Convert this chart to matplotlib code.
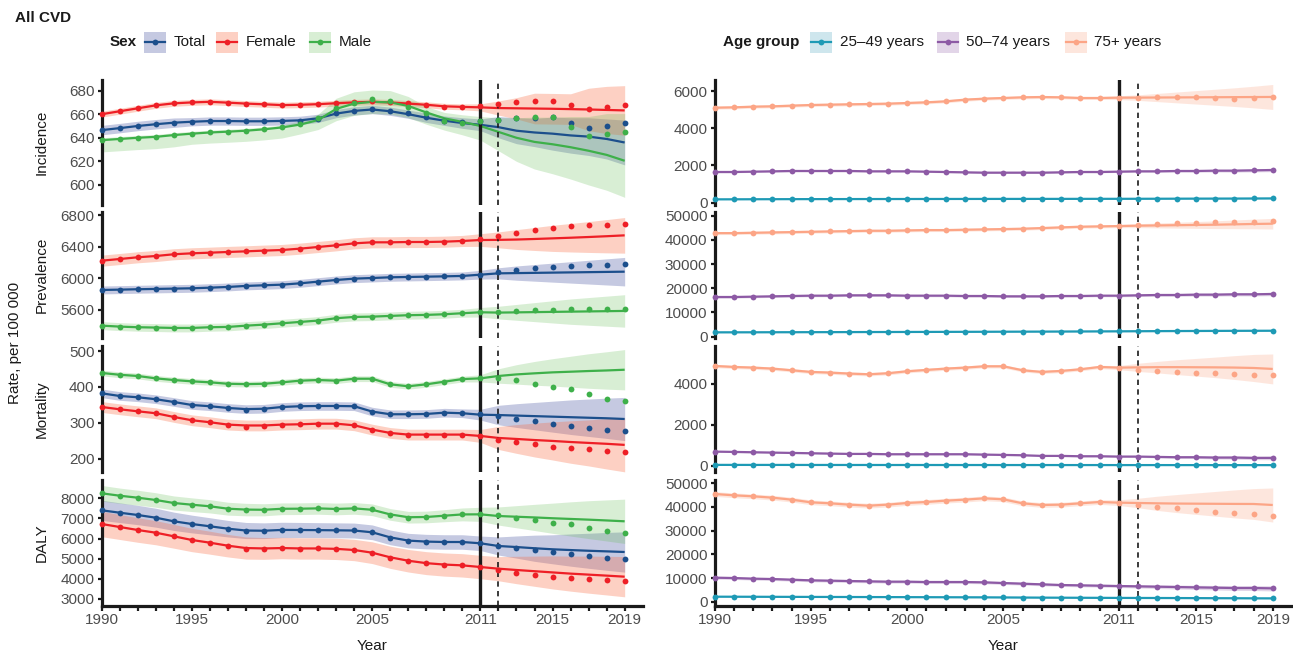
import matplotlib
matplotlib.use("Agg")
import matplotlib.pyplot as plt
from matplotlib.patches import Rectangle
from matplotlib.lines import Line2D
import numpy as np

plt.rcParams['font.family'] = ['Liberation Sans', 'DejaVu Sans']

W, H = 1293, 653
years = list(range(1990, 2020))
measures = ["Incidence", "Prevalence", "Mortality", "DALY"]
sex_groups = ["Total", "Female", "Male"]
age_groups = ["25–49 years", "50–74 years", "75+ years"]
xtick_labels = [1990, 1995, 2000, 2005, 2011, 2015, 2019]

# ---------------- Sex: Incidence ----------------
inc_total_pts = [646.7, 648.4, 650, 651.5, 652.9, 653.7, 654.3, 654.3, 654, 654, 654.3, 654.6, 655.8, 660.8, 663, 664.7, 663, 660.8, 657.4, 654.6, 653.7, 654.3, 655.5, 656.5, 657, 657.3, 652.9, 648.1, 650, 652.3]
inc_total_fit = [646.5, 648.2, 650, 651.5, 652.8, 653.6, 654.2, 654.2, 654, 654, 654.3, 654.8, 656.5, 660.5, 662.8, 664, 662.5, 660, 657, 654.5, 652.5, 651, 649, 646, 644.5, 643.5, 642, 641, 639, 636]
inc_total_wlo = [4, 4, 4, 4, 4, 3.5, 3.5, 3.5, 3.5, 3.5, 3.5, 3.5, 3.5, 3.5, 3.5, 3.5, 3.5, 3.5, 4, 4, 4.5, 5, 9, 11, 12, 14, 15, 16, 17, 19]
inc_total_whi = inc_total_wlo
inc_female_pts = [660, 662.5, 665, 667.6, 669.3, 670, 670.7, 669.8, 669, 668.4, 667.6, 668, 668.5, 669.3, 670.4, 671, 670.4, 669.3, 667.9, 666.4, 666.2, 666.8, 668.4, 670, 671.2, 671.2, 667.6, 664.2, 666, 667.6]
inc_female_fit = [660, 662.5, 665, 667.5, 669.2, 670, 670.5, 669.8, 669, 668.4, 667.7, 668, 668.5, 669.3, 670, 670.5, 670, 669, 668, 666.7, 666.2, 665.8, 665.2, 665, 664.8, 664.6, 664.3, 664, 663.6, 663.2]
inc_female_wlo = [2.5, 2.5, 2.5, 2.5, 2.5, 2.5, 2.5, 2.5, 2.5, 2.5, 2.5, 2.5, 2.5, 2.5, 2.5, 2.5, 2.5, 2.5, 2.5, 2.5, 2.5, 3, 6, 9, 13, 13, 13, 18, 20, 21]
inc_female_whi = inc_female_wlo
inc_male_pts = [638, 639, 640, 640.7, 642.4, 643.5, 644.7, 645.2, 646, 647.3, 649, 651.5, 657, 665, 669.8, 673, 671.2, 666.4, 660.8, 654.3, 652.3, 654.3, 655.4, 657.1, 657.9, 657.9, 649.2, 641.6, 643, 645.2]
inc_male_fit = [638, 639, 640, 640.8, 642.3, 643.5, 644.5, 645.2, 646, 647.2, 648.8, 651.2, 655, 664.5, 669, 670.5, 670, 667, 661.5, 656.5, 653.5, 650, 645, 640, 636.5, 634.5, 632, 629, 625.5, 620.5]
inc_male_wlo = [10, 10, 10, 10, 10, 9, 9, 9, 9, 9, 9, 8, 8, 10, 10, 10, 10, 10, 10, 10, 11, 12, 16, 20, 23, 25, 27, 29, 30, 31]
inc_male_whi = [2, 2, 2, 2, 2, 2, 2, 2, 2, 2, 2, 3, 5, 9, 10, 10, 10, 8, 5, 5, 6, 8, 12, 17, 21, 23, 26, 29, 35, 40]

# ---------------- Sex: Prevalence ----------------
prev_total_pts = [5853, 5857, 5862, 5866, 5870, 5874, 5882, 5891, 5904, 5912, 5920, 5937, 5958, 5979, 5996, 6004, 6013, 6017, 6021, 6025, 6030, 6046, 6076, 6105, 6130, 6143, 6160, 6164, 6172, 6177]
prev_total_fit = [5853, 5857, 5862, 5866, 5870, 5874, 5882, 5891, 5904, 5912, 5920, 5937, 5958, 5979, 5996, 6004, 6013, 6017, 6021, 6025, 6030, 6046, 6063, 6066, 6069, 6072, 6075, 6078, 6081, 6084]
prev_total_w = [50, 50, 50, 50, 50, 50, 50, 50, 50, 50, 50, 50, 50, 50, 50, 50, 50, 50, 50, 50, 50, 55, 70, 90, 105, 120, 135, 150, 165, 180]
prev_female_pts = [6223, 6244, 6266, 6282, 6304, 6316, 6324, 6333, 6341, 6350, 6358, 6375, 6396, 6417, 6442, 6455, 6455, 6459, 6459, 6463, 6472, 6493, 6535, 6577, 6611, 6636, 6657, 6670, 6678, 6686]
prev_female_fit = [6223, 6244, 6266, 6282, 6304, 6316, 6324, 6333, 6341, 6350, 6358, 6375, 6396, 6417, 6442, 6455, 6455, 6459, 6459, 6463, 6472, 6484, 6486, 6490, 6497, 6505, 6513, 6522, 6532, 6543]
prev_female_w = [70, 70, 70, 70, 70, 70, 70, 70, 70, 70, 70, 70, 70, 70, 70, 70, 70, 70, 70, 70, 70, 80, 100, 125, 145, 165, 180, 195, 210, 225]
prev_male_pts = [5402, 5390, 5382, 5378, 5373, 5373, 5382, 5386, 5402, 5415, 5432, 5449, 5466, 5496, 5512, 5516, 5525, 5534, 5538, 5546, 5559, 5571, 5571, 5584, 5597, 5605, 5613, 5613, 5613, 5617]
prev_male_fit = [5402, 5390, 5382, 5378, 5373, 5373, 5382, 5386, 5402, 5415, 5432, 5449, 5466, 5496, 5512, 5516, 5525, 5534, 5538, 5546, 5559, 5571, 5567, 5570, 5573, 5576, 5579, 5582, 5585, 5588]
prev_male_w = [50, 50, 50, 50, 50, 50, 50, 50, 50, 50, 50, 50, 50, 50, 50, 50, 50, 50, 50, 50, 50, 60, 80, 100, 120, 140, 160, 175, 190, 205]

# ---------------- Sex: Mortality ----------------
mort_total_pts = [382.4, 375, 371.4, 366, 358.3, 350, 346.5, 341.7, 337, 339, 344.4, 346.5, 347.2, 347.2, 346.5, 331.6, 324.2, 324.2, 325, 328.6, 327, 324.2, 318.6, 312, 305.6, 297.2, 292.6, 287, 280.6, 277]
mort_total_fit = [382.4, 375, 371.4, 366, 358.3, 350, 346.5, 341.7, 338.5, 339.5, 344.4, 346.5, 347.2, 347.2, 346.5, 331.6, 324.2, 324.2, 325, 328.6, 327, 323, 322, 320.5, 319, 317.5, 316, 314.5, 313, 311]
mort_total_w = [12, 12, 12, 12, 12, 12, 12, 12, 12, 12, 12, 12, 12, 12, 12, 12, 12, 12, 12, 12, 12, 15, 27, 33, 38, 43, 48, 52, 56, 60]
mort_female_pts = [344.4, 338, 332.4, 327, 316.7, 307.5, 302, 295.4, 290, 290.6, 295.4, 296.3, 298, 298, 293.5, 281.5, 272.2, 267.6, 267.6, 267.6, 267.6, 263.9, 253.7, 247.2, 240.7, 233.3, 229.6, 226.8, 223, 219.4]
mort_female_fit = [344.4, 338, 332.4, 327, 316.7, 307.5, 302, 295.4, 293, 293, 295.4, 296.3, 298, 298, 293.5, 281.5, 272.2, 267.6, 267.6, 267.6, 267.6, 263.9, 258.3, 255.5, 252.5, 250, 247, 244.5, 242, 239]
mort_female_w = [15, 15, 15, 15, 15, 15, 15, 15, 15, 15, 15, 15, 15, 15, 15, 15, 15, 15, 15, 15, 15, 18, 32, 40, 47, 53, 59, 64, 70, 75]
mort_male_pts = [439, 434, 430.6, 424, 419.4, 415.7, 413, 409, 408, 409, 413, 417.6, 419.4, 417.6, 423, 423, 407.4, 402, 407.4, 414.8, 422, 424, 424, 418.5, 408.3, 401, 393.5, 380.6, 367.6, 362]
mort_male_fit = [439, 434, 430.6, 424, 419.4, 415.7, 413, 409, 408, 409, 413, 417.6, 419.4, 417.6, 423, 423, 407.4, 402, 407.4, 414.8, 422, 424, 430.6, 435, 438, 440.7, 442.5, 444.4, 446, 448]
mort_male_w = [8, 8, 8, 8, 8, 8, 8, 8, 8, 8, 8, 8, 8, 8, 8, 8, 8, 8, 8, 8, 8, 10, 20, 27, 33, 38, 43, 48, 52, 56]

# ---------------- Sex: DALY ----------------
daly_total_pts = [7404, 7285, 7171, 7037, 6858, 6724, 6610, 6491, 6376, 6376, 6441, 6426, 6426, 6411, 6411, 6312, 6029, 5865, 5830, 5830, 5850, 5766, 5632, 5532, 5418, 5318, 5219, 5135, 5050, 4971]
daly_total_fit = [7404, 7285, 7171, 7037, 6858, 6724, 6610, 6491, 6400, 6390, 6430, 6426, 6420, 6411, 6400, 6312, 6060, 5900, 5850, 5830, 5830, 5766, 5632, 5580, 5520, 5468, 5430, 5395, 5365, 5334]
daly_total_w = [500, 490, 480, 470, 455, 440, 425, 410, 400, 390, 380, 375, 370, 370, 370, 365, 365, 360, 360, 360, 360, 360, 450, 550, 650, 720, 800, 870, 940, 1000]
daly_female_pts = [6724, 6575, 6426, 6292, 6113, 5930, 5796, 5647, 5498, 5498, 5547, 5498, 5517, 5498, 5433, 5299, 5050, 4886, 4771, 4702, 4672, 4588, 4440, 4305, 4205, 4092, 4042, 3992, 3943, 3878]
daly_female_fit = [6724, 6575, 6426, 6292, 6113, 5930, 5796, 5647, 5530, 5510, 5530, 5510, 5510, 5490, 5433, 5299, 5070, 4900, 4780, 4710, 4670, 4588, 4505, 4440, 4380, 4320, 4260, 4210, 4160, 4108]
daly_female_w = [630, 620, 610, 600, 590, 580, 570, 560, 550, 540, 530, 530, 530, 530, 530, 540, 550, 560, 570, 575, 580, 580, 600, 680, 750, 820, 870, 920, 960, 1000]
daly_male_pts = [8248, 8129, 8030, 7916, 7767, 7682, 7603, 7484, 7434, 7419, 7484, 7484, 7503, 7454, 7533, 7454, 7171, 7007, 7072, 7136, 7220, 7204, 7171, 7037, 6908, 6788, 6709, 6525, 6361, 6277]
daly_male_fit = [8248, 8129, 8030, 7916, 7767, 7682, 7603, 7484, 7440, 7430, 7480, 7484, 7500, 7470, 7500, 7430, 7200, 7060, 7072, 7136, 7200, 7204, 7121, 7085, 7050, 7010, 6975, 6940, 6900, 6858]
daly_male_w = [390, 380, 370, 360, 350, 340, 330, 320, 310, 300, 290, 290, 290, 290, 290, 290, 290, 290, 290, 300, 320, 350, 450, 550, 650, 750, 850, 940, 1020, 1100]

# ---------------- Age: Incidence ----------------
inc_a1_pts = [180, 182, 185, 188, 190, 192, 193, 195, 196, 197, 198, 199, 200, 201, 202, 203, 203, 204, 205, 206, 207, 208, 210, 212, 215, 218, 220, 222, 226, 230]
inc_a1_w = [15, 15, 15, 15, 15, 15, 15, 15, 15, 15, 15, 15, 15, 15, 15, 15, 15, 15, 15, 15, 15, 15, 17, 18, 19, 20, 21, 22, 24, 25]
inc_a2_pts = [1649, 1649, 1667, 1685, 1703, 1703, 1703, 1703, 1685, 1685, 1685, 1667, 1649, 1631, 1613, 1613, 1613, 1613, 1631, 1649, 1649, 1667, 1685, 1685, 1703, 1703, 1720, 1720, 1738, 1756]
inc_a2_w = [40, 40, 40, 40, 40, 40, 40, 40, 40, 40, 40, 40, 40, 40, 40, 40, 40, 40, 40, 40, 40, 42, 48, 54, 60, 66, 72, 78, 84, 90]
inc_a3_pts = [5104, 5122, 5158, 5176, 5212, 5248, 5266, 5284, 5301, 5319, 5355, 5391, 5444, 5534, 5588, 5624, 5660, 5677, 5660, 5624, 5624, 5642, 5642, 5660, 5677, 5695, 5624, 5552, 5606, 5660]
inc_a3_fit = [5104, 5122, 5158, 5176, 5212, 5248, 5266, 5284, 5301, 5319, 5355, 5391, 5444, 5534, 5588, 5624, 5660, 5677, 5660, 5624, 5624, 5642, 5645, 5650, 5655, 5660, 5665, 5670, 5675, 5680]
inc_a3_w = [80, 80, 80, 80, 80, 80, 80, 80, 80, 80, 80, 80, 80, 80, 80, 80, 80, 80, 80, 80, 80, 100, 150, 220, 290, 360, 430, 500, 580, 670]

# ---------------- Age: Prevalence ----------------
prev_a1_pts = [1800, 1810, 1820, 1840, 1850, 1870, 1880, 1900, 1920, 1930, 1950, 1970, 1990, 2010, 2030, 2060, 2080, 2100, 2130, 2160, 2190, 2220, 2260, 2300, 2330, 2360, 2390, 2420, 2440, 2460]
prev_a1_w = [200, 200, 200, 200, 200, 200, 200, 200, 200, 200, 200, 200, 200, 200, 200, 200, 200, 200, 200, 200, 200, 210, 220, 230, 240, 250, 265, 275, 290, 300]
prev_a2_pts = [16389, 16389, 16528, 16667, 16806, 16944, 16944, 17083, 17083, 17083, 16944, 16944, 16944, 16806, 16806, 16667, 16667, 16667, 16806, 16806, 16944, 16944, 17083, 17222, 17222, 17361, 17361, 17500, 17500, 17639]
prev_a2_w = [450, 450, 450, 450, 450, 450, 450, 450, 450, 450, 450, 450, 450, 450, 450, 450, 450, 450, 450, 450, 450, 470, 500, 530, 560, 590, 620, 650, 680, 700]
prev_a3_pts = [42778, 42778, 42917, 43056, 43194, 43333, 43472, 43611, 43750, 43750, 43889, 44028, 44028, 44167, 44306, 44444, 44583, 44861, 45139, 45417, 45556, 45694, 45972, 46528, 46806, 47083, 47222, 47361, 47500, 47778]
prev_a3_fit = [42778, 42778, 42917, 43056, 43194, 43333, 43472, 43611, 43750, 43750, 43889, 44028, 44028, 44167, 44306, 44444, 44583, 44861, 45139, 45417, 45556, 45694, 45850, 45950, 46050, 46150, 46250, 46400, 46550, 46667]
prev_a3_w = [600, 600, 600, 600, 600, 600, 600, 600, 600, 600, 600, 600, 600, 600, 600, 600, 600, 600, 600, 600, 600, 650, 800, 1000, 1200, 1400, 1600, 1800, 2000, 2200]

# ---------------- Age: Mortality ----------------
mort_a1_pts = [32, 31, 30, 30, 29, 28, 28, 27, 27, 26, 26, 26, 25, 25, 25, 24, 24, 24, 23, 23, 23, 22, 22, 22, 21, 21, 21, 20, 20, 20]
mort_a1_w = [5, 5, 5, 5, 5, 5, 5, 5, 5, 5, 5, 5, 5, 5, 5, 5, 5, 5, 5, 5, 5, 5, 5, 5, 5, 5, 5, 5, 5, 5]
mort_a2_pts = [680, 664, 648, 632, 615, 599, 583, 567, 567, 551, 551, 551, 551, 551, 534, 518, 502, 470, 470, 453, 453, 437, 437, 421, 405, 405, 389, 389, 372, 372]
mort_a2_w = [30, 30, 30, 30, 30, 30, 30, 30, 30, 30, 30, 30, 30, 30, 30, 30, 30, 30, 30, 30, 30, 32, 40, 48, 56, 63, 70, 77, 84, 90]
mort_a3_pts = [4858, 4810, 4777, 4729, 4648, 4567, 4534, 4486, 4453, 4502, 4599, 4664, 4729, 4777, 4842, 4842, 4648, 4567, 4615, 4696, 4810, 4777, 4680, 4632, 4583, 4534, 4518, 4486, 4437, 4421]
mort_a3_fit = [4858, 4810, 4777, 4729, 4648, 4567, 4534, 4486, 4453, 4502, 4599, 4664, 4729, 4777, 4842, 4842, 4648, 4567, 4615, 4696, 4810, 4777, 4790, 4800, 4800, 4795, 4790, 4780, 4760, 4713]
mort_a3_w = [80, 80, 80, 80, 80, 80, 80, 80, 80, 80, 80, 80, 80, 80, 80, 80, 80, 80, 80, 80, 80, 100, 200, 280, 360, 430, 500, 580, 660, 730]

# ---------------- Age: DALY ----------------
daly_a1_pts = [2113, 2100, 2080, 2060, 2040, 2020, 2000, 1980, 1960, 1940, 1920, 1900, 1880, 1860, 1840, 1800, 1760, 1720, 1690, 1660, 1630, 1600, 1580, 1560, 1540, 1510, 1480, 1460, 1430, 1408]
daly_a1_w = [150, 150, 150, 150, 150, 150, 150, 150, 150, 150, 150, 150, 150, 150, 150, 150, 150, 150, 150, 150, 150, 150, 160, 170, 180, 190, 200, 210, 220, 230]
daly_a2_pts = [10141, 10000, 9718, 9577, 9296, 9014, 8873, 8732, 8592, 8451, 8451, 8310, 8310, 8310, 8169, 7887, 7606, 7324, 7042, 6901, 6761, 6620, 6479, 6338, 6197, 6056, 5915, 5775, 5775, 5634]
daly_a2_w = [600, 600, 600, 600, 600, 600, 600, 600, 600, 600, 600, 600, 600, 600, 600, 600, 600, 600, 600, 600, 600, 620, 700, 760, 820, 880, 940, 1000, 1050, 1100]
daly_a3_pts = [45493, 44930, 44507, 43944, 43099, 41972, 41549, 40986, 40563, 40986, 41690, 42113, 42676, 43099, 43662, 43239, 41549, 40845, 40986, 41549, 42113, 41831, 40845, 40141, 39437, 38592, 38028, 37465, 36901, 36338]
daly_a3_fit = [45493, 44930, 44507, 43944, 43099, 41972, 41549, 40986, 40563, 40986, 41690, 42113, 42676, 43099, 43662, 43239, 41549, 40845, 40986, 41549, 42113, 41831, 41690, 41550, 41450, 41400, 41350, 41300, 41270, 40845]
daly_a3_w = [1000, 1000, 1000, 1000, 1000, 1000, 1000, 1000, 1000, 1000, 1000, 1000, 1000, 1000, 1000, 1000, 1000, 1000, 1000, 1000, 1000, 1200, 2000, 3000, 3800, 4500, 5200, 5900, 6500, 7200]

# ---------------- axis settings ----------------
left_ylims = [(583, 689), (5246, 6838), (165, 514), (2667, 8909)]
left_yticks = [[600, 620, 640, 660, 680], [5600, 6000, 6400, 6800], [200, 300, 400, 500],
               [3000, 4000, 5000, 6000, 7000, 8000]]
right_ylims = [(-124, 6591), (-542, 51500), (-291, 5832), (-1690, 51400)]
right_yticks = [[0, 2000, 4000, 6000], [0, 10000, 20000, 30000, 40000, 50000], [0, 2000, 4000],
                [0, 10000, 20000, 30000, 40000, 50000]]

sex_line = {"Total": "#1C4F8C", "Female": "#EE1F26", "Male": "#3EB04A"}
sex_fill = {"Total": "#3F4C9E", "Female": "#F96E46", "Male": "#5DBB4E"}
sex_alpha = {"Total": 0.30, "Female": 0.32, "Male": 0.24}
age_line = {"25–49 years": "#1E9AB5", "50–74 years": "#8D5AA5", "75+ years": "#FCA586"}
age_fill = {"25–49 years": "#3E9CB9", "50–74 years": "#8D5AA5", "75+ years": "#FB9D7A"}
age_alpha = {"25–49 years": 0.25, "50–74 years": 0.25, "75+ years": 0.25}

left_data = [
    {"Total": (inc_total_pts, inc_total_fit, inc_total_wlo, inc_total_whi),
     "Female": (inc_female_pts, inc_female_fit, inc_female_wlo, inc_female_whi),
     "Male": (inc_male_pts, inc_male_fit, inc_male_wlo, inc_male_whi)},
    {"Total": (prev_total_pts, prev_total_fit, prev_total_w, prev_total_w),
     "Female": (prev_female_pts, prev_female_fit, prev_female_w, prev_female_w),
     "Male": (prev_male_pts, prev_male_fit, prev_male_w, prev_male_w)},
    {"Total": (mort_total_pts, mort_total_fit, mort_total_w, mort_total_w),
     "Female": (mort_female_pts, mort_female_fit, mort_female_w, mort_female_w),
     "Male": (mort_male_pts, mort_male_fit, mort_male_w, mort_male_w)},
    {"Total": (daly_total_pts, daly_total_fit, daly_total_w, daly_total_w),
     "Female": (daly_female_pts, daly_female_fit, daly_female_w, daly_female_w),
     "Male": (daly_male_pts, daly_male_fit, daly_male_w, daly_male_w)},
]
right_data = [
    {"25–49 years": (inc_a1_pts, inc_a1_pts, inc_a1_w, inc_a1_w),
     "50–74 years": (inc_a2_pts, inc_a2_pts, inc_a2_w, inc_a2_w),
     "75+ years": (inc_a3_pts, inc_a3_fit, inc_a3_w, inc_a3_w)},
    {"25–49 years": (prev_a1_pts, prev_a1_pts, prev_a1_w, prev_a1_w),
     "50–74 years": (prev_a2_pts, prev_a2_pts, prev_a2_w, prev_a2_w),
     "75+ years": (prev_a3_pts, prev_a3_fit, prev_a3_w, prev_a3_w)},
    {"25–49 years": (mort_a1_pts, mort_a1_pts, mort_a1_w, mort_a1_w),
     "50–74 years": (mort_a2_pts, mort_a2_pts, mort_a2_w, mort_a2_w),
     "75+ years": (mort_a3_pts, mort_a3_fit, mort_a3_w, mort_a3_w)},
    {"25–49 years": (daly_a1_pts, daly_a1_pts, daly_a1_w, daly_a1_w),
     "50–74 years": (daly_a2_pts, daly_a2_pts, daly_a2_w, daly_a2_w),
     "75+ years": (daly_a3_pts, daly_a3_fit, daly_a3_w, daly_a3_w)},
]

rows_px = [(80, 205), (212, 338), (346, 471.5), (480, 605.7)]
left_x = (101.7, 642.7)
right_x = (714.6, 1292)
INK = "#1A1A1A"
TICKC = "#4D4D4D"

fig = plt.figure(figsize=(W / 100, H / 100), dpi=100)


def rect(x0, x1, y0, y1):
    return [x0 / W, 1 - y1 / H, (x1 - x0) / W, (y1 - y0) / H]


def draw_panel(ax, data, groups, lc, fc, fa, ylim, yticks, bottom):
    yrs = np.array(years)
    for g in groups:
        pts, fit, wlo, whi = data[g]
        fit = np.array(fit, float)
        ax.fill_between(yrs, fit - np.array(wlo), fit + np.array(whi), color=fc[g],
                        alpha=fa[g], lw=0, zorder=1)
    for g in groups:
        pts, fit, wlo, whi = data[g]
        ax.plot(yrs, fit, color=lc[g], lw=1.6, zorder=3, solid_capstyle='butt')
    ax.axvline(2011, color=INK, lw=2.4, zorder=4)
    ax.axvline(2012, color=INK, lw=1.2, ls=(0, (3.2, 2.6)), zorder=4)
    for g in groups:
        pts, fit, wlo, whi = data[g]
        ax.plot(yrs, pts, 'o', ms=4.2, color=lc[g], mec='none', zorder=5, clip_on=False)
    ax.set_xlim(1990, 2020)
    ax.set_ylim(*ylim)
    ax.set_yticks(yticks)
    ax.set_yticklabels([str(t) for t in yticks])
    for s in ['top', 'right']:
        ax.spines[s].set_visible(False)
    ax.spines['left'].set_linewidth(2.3)
    ax.spines['left'].set_color(INK)
    ax.tick_params(axis='y', length=3.2, width=1.6, color=INK, labelcolor=TICKC,
                   labelsize=11, pad=2)
    ax.patch.set_alpha(0)
    if bottom:
        ax.spines['bottom'].set_linewidth(2.3)
        ax.spines['bottom'].set_color(INK)
        ax.set_xticks(years)
        ax.set_xticklabels([str(y) if y in xtick_labels else "" for y in years])
        ax.tick_params(axis='x', length=3.5, width=1.6, color=INK, labelcolor=TICKC,
                       labelsize=11, pad=2)
    else:
        ax.spines['bottom'].set_visible(False)
        ax.set_xticks([])


for i in range(4):
    y0, y1 = rows_px[i]
    axl = fig.add_axes(rect(left_x[0], left_x[1], y0, y1))
    draw_panel(axl, left_data[i], sex_groups, sex_line, sex_fill, sex_alpha,
               left_ylims[i], left_yticks[i], i == 3)
    axr = fig.add_axes(rect(right_x[0], right_x[1], y0, y1))
    draw_panel(axr, right_data[i], age_groups, age_line, age_fill, age_alpha,
               right_ylims[i], right_yticks[i], i == 3)
    fig.text(42 / W, 1 - ((y0 + y1) / 2) / H, measures[i], rotation=90, ha='center',
             va='center', fontsize=11, color=INK)

fig.text(15 / W, 1 - 343 / H, "Rate, per 100 000", rotation=90, ha='center', va='center',
         fontsize=11, color=INK)
fig.text((left_x[0] + left_x[1]) / 2 / W, 1 - 646 / H, "Year", ha='center', va='center',
         fontsize=11, color=INK)
fig.text((right_x[0] + right_x[1]) / 2 / W, 1 - 646 / H, "Year", ha='center', va='center',
         fontsize=11, color=INK)

# ---------------- title and legends (pixel overlay) ----------------
ov = fig.add_axes([0, 0, 1, 1])
ov.set_xlim(0, W)
ov.set_ylim(H, 0)
ov.axis('off')
ov.patch.set_alpha(0)
ov.text(15, 18, "All CVD", fontsize=11, fontweight='bold', color=INK, ha='left', va='center')


def legend(title, tx, boxes, groups, lc, fc, fa):
    ov.text(tx, 42, title, fontsize=11, fontweight='bold', color=INK, ha='left', va='center')
    for bx, g in zip(boxes, groups):
        ov.add_patch(Rectangle((bx, 31.5), 22, 21, facecolor=fc[g], alpha=fa[g], lw=0))
        ov.add_line(Line2D([bx + 1, bx + 21], [42, 42], color=lc[g], lw=1.6))
        ov.plot([bx + 11], [42], 'o', ms=4.2, color=lc[g], mec='none')
        ov.text(bx + 30, 42, g, fontsize=11, color=INK, ha='left', va='center')


legend("Sex", 110, [143.5, 215.5, 308.5], sex_groups, sex_line, sex_fill, sex_alpha)
legend("Age group", 723, [809.5, 936.5, 1064.5], age_groups, age_line, age_fill, age_alpha)

fig.savefig("out.png", dpi=100)
